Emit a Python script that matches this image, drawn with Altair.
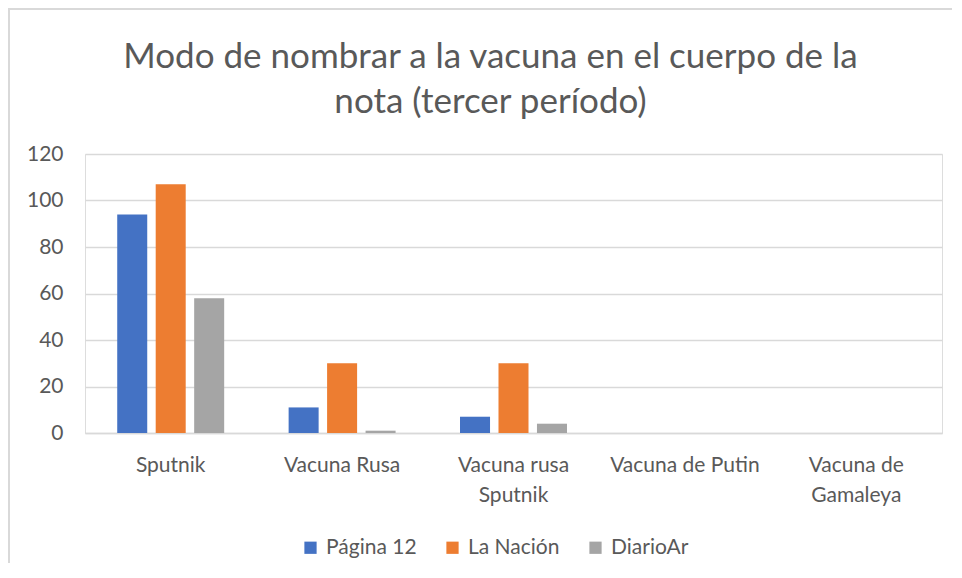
import altair as alt
import pandas as pd

categories = ["Sputnik", "Vacuna Rusa", "Vacuna rusa Sputnik", "Vacuna de Putin", "Vacuna de Gamaleya"]
series = ["Página 12", "La Nación", "DiarioAr"]
pagina12 = [94, 11, 7, 0, 0]
la_nacion = [107, 30, 30, 0, 0]
diarioar = [58, 1, 4, 0, 0]
colors = ["#4472C4", "#ED7D31", "#A5A5A5"]
y_ticks = [0, 20, 40, 60, 80, 100, 120]

rows = []
for s, vals in zip(series, [pagina12, la_nacion, diarioar]):
    for c, v in zip(categories, vals):
        rows.append({"categoria": c, "serie": s, "valor": v})
df = pd.DataFrame(rows)

FONT = "Lato"
TXT = "#595959"
GRID = "#d9d9d9"

label_expr = ("datum.value == 'Vacuna rusa Sputnik' ? ['Vacuna rusa', 'Sputnik'] : "
              "datum.value == 'Vacuna de Gamaleya' ? ['Vacuna de', 'Gamaleya'] : datum.value")

bars = alt.Chart(df).mark_bar().encode(
    x=alt.X("categoria:N", sort=categories, title=None,
            scale=alt.Scale(paddingInner=0.376, paddingOuter=0.188),
            axis=alt.Axis(labelAngle=0, labelExpr=label_expr, labelFont=FONT, labelFontSize=21,
                          labelColor=TXT, labelLineHeight=30, labelPadding=21, labelLimit=300,
                          ticks=False, domainColor=GRID, domainWidth=1.5, grid=False)),
    xOffset=alt.XOffset("serie:N", sort=series, scale=alt.Scale(paddingInner=0.22, paddingOuter=0)),
    y=alt.Y("valor:Q", title=None, scale=alt.Scale(domain=[0, 120], nice=False),
            axis=alt.Axis(values=y_ticks, labelFont=FONT, labelFontSize=21, labelColor=TXT,
                          labelPadding=22, ticks=False, domain=False, gridColor=GRID, gridWidth=1.5)),
    color=alt.Color("serie:N", sort=series, scale=alt.Scale(domain=series, range=colors),
                    legend=alt.Legend(title=None, orient="none", direction="horizontal",
                                      legendX=215, legendY=383, symbolType="square",
                                      symbolSize=150, symbolStrokeWidth=0, labelFont=FONT,
                                      labelFontSize=21, labelColor=TXT, labelOffset=5,
                                      columnPadding=25)),
)

border_df = pd.DataFrame({"k": [0]})
top_border = alt.Chart(border_df).mark_rule(color=GRID, strokeWidth=2).encode(
    x=alt.value(-77), x2=alt.value(900), y=alt.value(-145))
left_border = alt.Chart(border_df).mark_rule(color=GRID, strokeWidth=2).encode(
    x=alt.value(-76), y=alt.value(-146), y2=alt.value(430))

chart = alt.layer(top_border, left_border, bars).properties(
    width=857, height=279,
    autosize=alt.AutoSizeParams(type="none"),
    padding={"left": 77, "top": 146, "right": 10, "bottom": 130},
    title=alt.TitleParams(
        text=["Modo de nombrar a la vacuna en el cuerpo de la", "nota (tercer período)"],
        font=FONT, fontSize=35, fontWeight="normal", color=TXT, lineHeight=45,
        anchor="middle", dx=-23, offset=-113),
).configure_view(stroke=None).configure(background="white")

chart.save("out.html", embed_options={"renderer": "svg", "actions": False})
